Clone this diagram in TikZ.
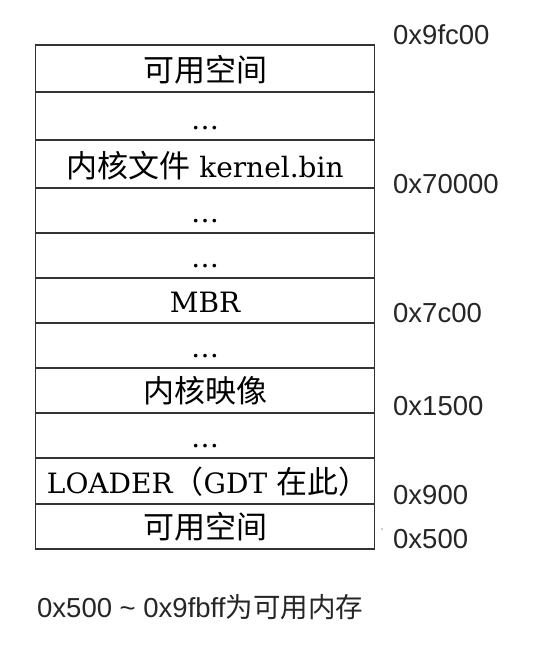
\documentclass[tikz,border=0pt]{standalone}
\usepackage{fontspec}
\setmainfont{DejaVu Serif}
\newfontfamily\cjk{Noto Sans CJK SC}
\newfontfamily\lab{Liberation Sans}
\newcommand\ck[1]{{\cjk\fontsize{31}{33}\selectfont #1}}
\begin{document}
\begin{tikzpicture}[x=1pt,y=-1pt,
  row/.style={draw=black!80, line width=1.4pt, minimum width=338.6pt, inner sep=0pt, outer sep=0pt},
  txt/.style={anchor=base, inner sep=0pt, font=\fontsize{28}{30}\selectfont, text=black},
  addr/.style={anchor=base west, inner sep=0pt, font=\lab\fontsize{27.5}{29}\selectfont, text=black!85}]
\useasboundingbox (0,0) rectangle (536,646);
\fill[white] (0,0) rectangle (536,646);
% rows
\node[row, minimum height=47pt] (r1)  at (205,68.5)  {};
\node[row, minimum height=48pt] (r2)  at (205,116)   {};
\node[row, minimum height=48pt] (r3)  at (205,164)   {};
\node[row, minimum height=45pt] (r4)  at (205,210.5) {};
\node[row, minimum height=45pt] (r5)  at (205,255.5) {};
\node[row, minimum height=45pt] (r6)  at (205,300.5) {};
\node[row, minimum height=45pt] (r7)  at (205,345.5) {};
\node[row, minimum height=45pt] (r8)  at (205,390.5) {};
\node[row, minimum height=45pt] (r9)  at (205,435.5) {};
\node[row, minimum height=46pt] (r10) at (205,481)   {};
\node[row, minimum height=45pt] (r11) at (205,526.5) {};
% texts
\node[txt] (t1)  at ([yshift=11pt]r1.south)  {\ck{可用空间}};
\node[txt] (t2)  at ([yshift=11pt]r2.south)  {\ldots};
\node[txt] (t3)  at ([yshift=11pt]r3.south)  {\ck{内核文件} kernel.bin};
\node[txt] (t4)  at ([yshift=11pt]r4.south)  {\ldots};
\node[txt] (t5)  at ([yshift=11pt]r5.south)  {\ldots};
\node[txt] (t6)  at ([yshift=11pt]r6.south)  {MBR};
\node[txt] (t7)  at ([yshift=11pt]r7.south)  {\ldots};
\node[txt] (t8)  at ([yshift=11pt]r8.south)  {\ck{内核映像}};
\node[txt] (t9)  at ([yshift=11pt]r9.south)  {\ldots};
\node[txt] (t10) at ([xshift=3pt,yshift=11pt]r10.south) {LOADER\ck{（}GDT \ck{在此）}};
\node[txt] (t11) at ([yshift=11pt]r11.south) {\ck{可用空间}};
% addresses
\node[addr] (a1) at (393,44)  {0x9fc00};
\node[addr] (a2) at (393,193) {0x70000};
\node[addr] (a3) at (393,322) {0x7c00};
\node[addr] (a4) at (393,415) {0x1500};
\node[addr] (a5) at (393,504) {0x900};
\node[addr] (a6) at (393,548) {0x500};
\fill[blue!40!gray!60] (382,529) circle (0.8pt);
% note
\node[addr] (note) at (37,617) {0x500 \textasciitilde{} 0x9fbff{\cjk\fontsize{27.5}{29}\selectfont 为可用内存}};
\end{tikzpicture}
\end{document}
